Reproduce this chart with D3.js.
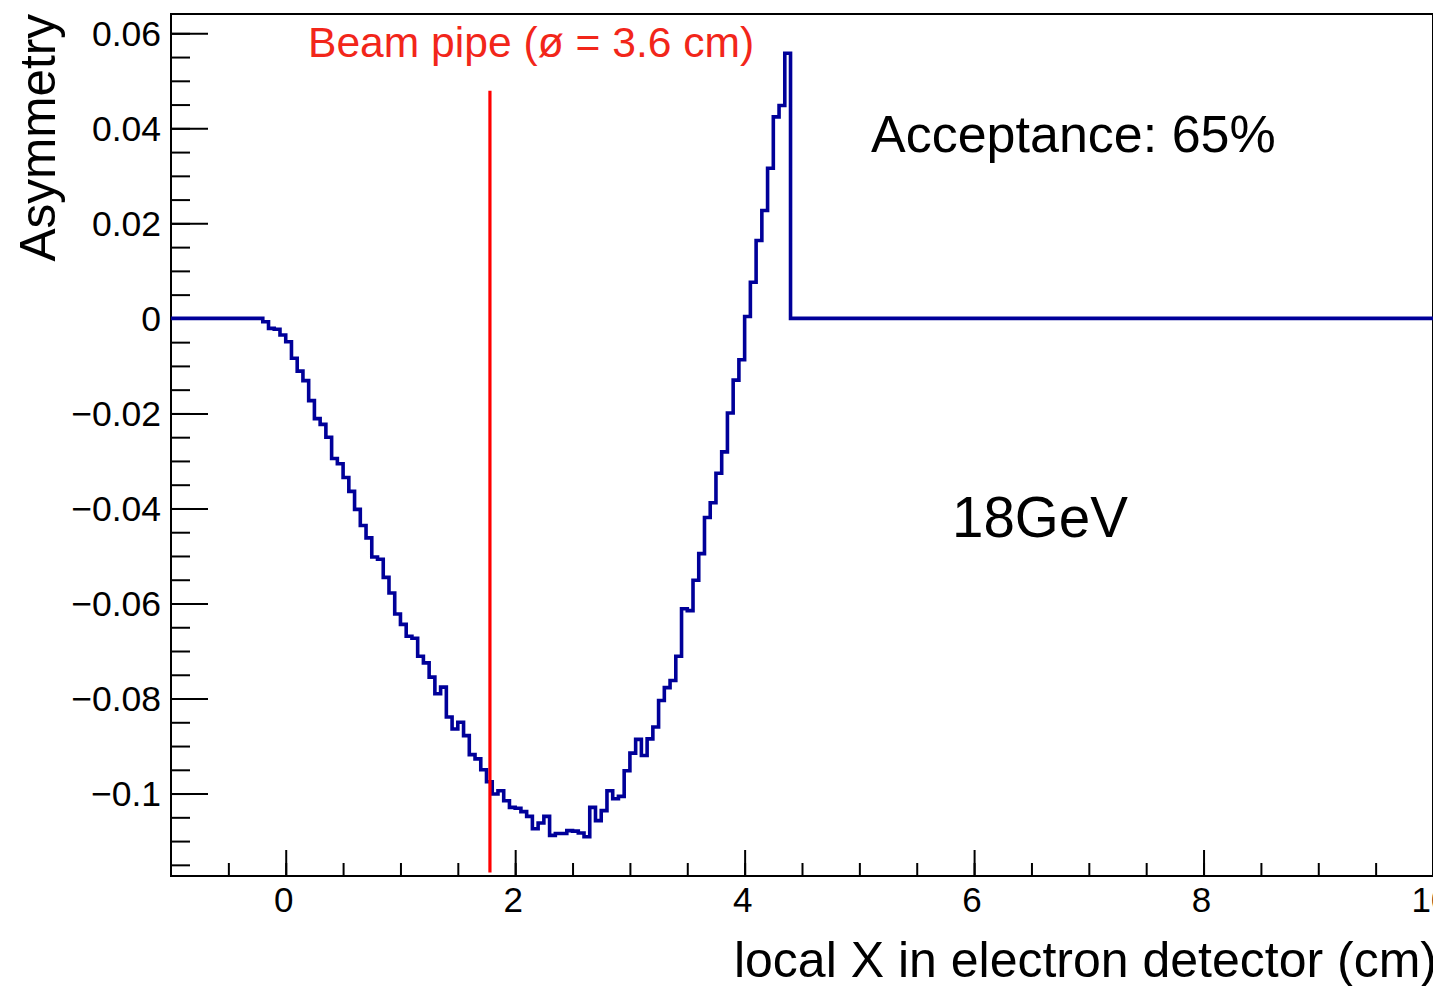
<!DOCTYPE html>
<html>
<head>
<meta charset="utf-8">
<script src="https://cdn.jsdelivr.net/npm/d3@7"></script>
<style>
  html, body { margin: 0; padding: 0; background: #fff; }
  svg { display: block; }
  text { font-family: "Liberation Sans", Arial, Helvetica, sans-serif; }
</style>
</head>
<body>
<svg id="chart" width="1433" height="986"></svg>
<script>
// Histogram binning (cm)
const histMin = -1;
const histMax = 10;
const binWidth = 0.05;
// First non-empty bin starts here; all bins outside the list are empty (0)
const firstFilledEdge = -0.2;

// Asymmetry per 0.05 cm bin, from -0.2 cm to 4.4 cm
const asymmetry = [
  -0.0007, -0.0021, -0.0023, -0.0035, -0.0049, -0.0084, -0.0111, -0.0131,
  -0.0173, -0.0211, -0.0223, -0.0250, -0.0295, -0.0306, -0.0335, -0.0364,
  -0.0402, -0.0436, -0.0462, -0.0502, -0.0507, -0.0545, -0.0578, -0.0622,
  -0.0644, -0.0669, -0.0673, -0.0711, -0.0725, -0.0755, -0.0790, -0.0776,
  -0.0839, -0.0864, -0.0850, -0.0878, -0.0918, -0.0927, -0.0950, -0.0975,
  -0.1001, -0.0994, -0.1015, -0.1029, -0.1031, -0.1038, -0.1048, -0.1074,
  -0.1062, -0.1048, -0.1088, -0.1084, -0.1084, -0.1078, -0.1079, -0.1083,
  -0.1091, -0.1029, -0.1057, -0.1036, -0.0994, -0.1011, -0.1006, -0.0952,
  -0.0915, -0.0886, -0.0920, -0.0885, -0.0860, -0.0804, -0.0777, -0.0762,
  -0.0711, -0.0611, -0.0615, -0.0551, -0.0495, -0.0419, -0.0388, -0.0326,
  -0.0281, -0.0199, -0.0130, -0.0087, 0.0004, 0.0076, 0.0164, 0.0227,
  0.0316, 0.0424, 0.0448, 0.0558
];

// Axis ranges and tick labels
const xDomain = [-1, 10];
const yDomain = [-0.11735, 0.06406];
const xMajorTicks = [0, 2, 4, 6, 8, 10];
const xTickLabels = ["0", "2", "4", "6", "8", "10"];
const yMajorTicks = [0.06, 0.04, 0.02, 0, -0.02, -0.04, -0.06, -0.08, -0.1];
const yTickLabels = ["0.06", "0.04", "0.02", "0", "\u22120.02", "\u22120.04", "\u22120.06", "\u22120.08", "\u22120.1"];

// Beam pipe marker (radius, cm) and its vertical extent
const beamPipeX = 1.78;
const beamPipeRange = [-0.1166, 0.0479];

const svg = d3.select("#chart");
const frame = { left: 171, right: 1433, top: 14, bottom: 876 };

const x = d3.scaleLinear().domain(xDomain).range([frame.left, frame.right]);
const y = d3.scaleLinear().domain(yDomain).range([frame.bottom, frame.top]);

// Build the full list of bins across the histogram range
const nBins = Math.round((histMax - histMin) / binWidth);
const firstIndex = Math.round((firstFilledEdge - histMin) / binWidth);
const bins = d3.range(nBins).map(i => {
  const j = i - firstIndex;
  const v = (j >= 0 && j < asymmetry.length) ? asymmetry[j] : 0;
  return { x0: histMin + i * binWidth, v };
});
const stepPoints = bins.map(b => [b.x0, b.v]);
stepPoints.push([histMax, bins[bins.length - 1].v]);

// Frame
svg.append("rect")
  .attr("x", frame.left).attr("y", frame.top)
  .attr("width", frame.right - frame.left)
  .attr("height", frame.bottom - frame.top)
  .attr("fill", "none").attr("stroke", "#000").attr("stroke-width", 2);

// Y axis ticks (inside the frame)
const yMinor = d3.range(-0.115, 0.0625, 0.005).map(v => Math.round(v * 1000) / 1000);
const yAxisMinor = d3.axisRight(y).tickValues(yMinor).tickSize(19).tickFormat("");
const yAxisMajor = d3.axisRight(y).tickValues(yMajorTicks).tickSize(37).tickFormat("");
[yAxisMinor, yAxisMajor].forEach(ax => {
  const g = svg.append("g").attr("transform", `translate(${frame.left},0)`).call(ax);
  g.select(".domain").remove();
  g.selectAll("line").attr("stroke", "#000").attr("stroke-width", 2);
});

// X axis ticks (inside the frame)
const xMinor = d3.range(-0.5, 10.01, 0.5);
const xAxisMinor = d3.axisTop(x).tickValues(xMinor).tickSize(13).tickFormat("");
const xAxisMajor = d3.axisTop(x).tickValues(xMajorTicks).tickSize(26).tickFormat("");
[xAxisMinor, xAxisMajor].forEach(ax => {
  const g = svg.append("g").attr("transform", `translate(0,${frame.bottom})`).call(ax);
  g.select(".domain").remove();
  g.selectAll("line").attr("stroke", "#000").attr("stroke-width", 2);
});

// Tick labels
svg.append("g").selectAll("text")
  .data(yMajorTicks)
  .join("text")
  .attr("x", 161)
  .attr("y", d => y(d) + 12.5)
  .attr("text-anchor", "end")
  .attr("font-size", 35.5)
  .attr("fill", "#000")
  .text((d, i) => yTickLabels[i]);

svg.append("g").selectAll("text")
  .data(xMajorTicks)
  .join("text")
  .attr("x", d => x(d) - 2)
  .attr("y", 912)
  .attr("text-anchor", "middle")
  .attr("font-size", 35)
  .attr("fill", "#000")
  .text((d, i) => xTickLabels[i]);

// Axis titles
svg.append("text")
  .attr("transform", `translate(55,${frame.top}) rotate(-90)`)
  .attr("text-anchor", "end")
  .attr("font-size", 49.5)
  .attr("fill", "#000")
  .text("Asymmetry");

svg.append("text")
  .attr("x", 1437)
  .attr("y", 977)
  .attr("text-anchor", "end")
  .attr("font-size", 50)
  .attr("fill", "#000")
  .text("local X in electron detector (cm)");

// Histogram
const line = d3.line()
  .x(d => x(d[0]))
  .y(d => y(d[1]))
  .curve(d3.curveStepAfter);

svg.append("path")
  .datum(stepPoints)
  .attr("d", line)
  .attr("fill", "none")
  .attr("stroke", "#000099")
  .attr("stroke-width", 3.6)
  .attr("stroke-linejoin", "miter");

// Beam pipe edge
svg.append("line")
  .attr("x1", x(beamPipeX)).attr("x2", x(beamPipeX))
  .attr("y1", y(beamPipeRange[1])).attr("y2", y(beamPipeRange[0]))
  .attr("stroke", "#ff0000")
  .attr("stroke-width", 3.2);

svg.append("text")
  .attr("x", 308)
  .attr("y", 57)
  .attr("font-size", 42.6)
  .attr("fill", "#f2261a")
  .text("Beam pipe (\u00f8 = 3.6 cm)");

// Annotations
svg.append("text")
  .attr("x", 871)
  .attr("y", 152)
  .attr("font-size", 52)
  .attr("fill", "#000")
  .text("Acceptance: 65%");

svg.append("text")
  .attr("x", 952)
  .attr("y", 537)
  .attr("font-size", 56.5)
  .attr("fill", "#000")
  .text("18GeV");
</script>
</body>
</html>
